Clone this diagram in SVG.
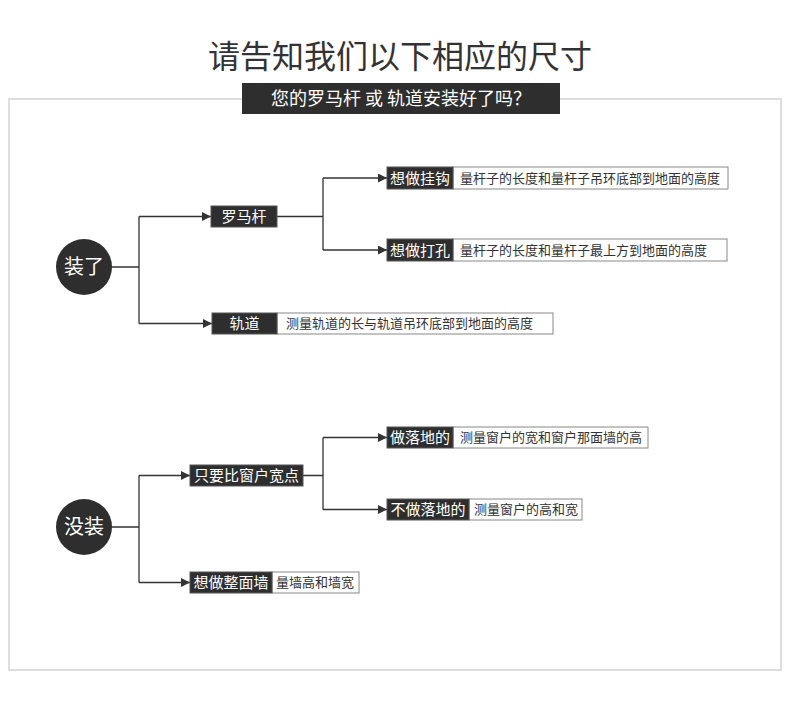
<svg xmlns="http://www.w3.org/2000/svg" width="790" height="701" viewBox="0 0 790 701">
<style>
text{font-family:"Noto Sans CJK SC","Noto Sans",sans-serif;}
.dk{fill:#2e2e2e;stroke:#555;stroke-width:1;}
.wt{fill:#fff;stroke:#888;stroke-width:1;}
.lb{fill:#fff;font-size:15px;}
.ds{fill:#333;font-size:13px;}
.ct{fill:#fff;font-size:20px;text-anchor:middle;}
.ln{fill:none;stroke:#333;stroke-width:1.3;}
</style>
<defs>
<marker id="ah" viewBox="0 0 10 10" refX="10" refY="5" markerWidth="9" markerHeight="9" markerUnits="userSpaceOnUse" orient="auto">
<path d="M0,0 L10,5 L0,10 z" fill="#333"/>
</marker>
</defs>
<rect width="790" height="701" fill="#fff"/>
<rect x="9" y="99" width="772" height="571" fill="none" stroke="#ddd" stroke-width="2"/>
<text x="400" y="68" font-size="32" fill="#333" text-anchor="middle">请告知我们以下相应的尺寸</text>
<g id="banner">
<rect x="242" y="83" width="318" height="31" fill="#2e2e2e"/>
<text x="401" y="105" font-size="18" fill="#fff" text-anchor="middle">您的罗马杆 或 轨道安装好了吗？</text>
</g>
<g id="connectors">
<path class="ln" d="M112,267 H139 M139,216.5 V323.5"/>
<path class="ln" d="M139,216.5 H211" marker-end="url(#ah)"/>
<path class="ln" d="M139,323.5 H212" marker-end="url(#ah)"/>
<path class="ln" d="M277,216.5 H323 M323,178 V250"/>
<path class="ln" d="M323,178 H387" marker-end="url(#ah)"/>
<path class="ln" d="M323,250 H387" marker-end="url(#ah)"/>
<path class="ln" d="M112,527 H139 M139,475.5 V582.5"/>
<path class="ln" d="M139,475.5 H190" marker-end="url(#ah)"/>
<path class="ln" d="M139,582.5 H190" marker-end="url(#ah)"/>
<path class="ln" d="M303,475.5 H323 M323,437.5 V509.5"/>
<path class="ln" d="M323,437.5 H387" marker-end="url(#ah)"/>
<path class="ln" d="M323,509.5 H387" marker-end="url(#ah)"/>
</g>
<g id="installed">
<circle cx="84" cy="267" r="28" fill="#2e2e2e"/>
<text class="ct" x="84" y="274">装了</text>
</g>
<g id="roman-rod">
<rect class="dk" x="211" y="206" width="66" height="21"/>
<text class="lb" x="244" y="222" text-anchor="middle">罗马杆</text>
</g>
<g id="hook">
<rect class="wt" x="453" y="167" width="275" height="22"/>
<rect class="dk" x="387" y="167" width="66" height="22"/>
<text class="lb" x="420" y="184" text-anchor="middle">想做挂钩</text>
<text class="ds" x="460" y="183">量杆子的长度和量杆子吊环底部到地面的高度</text>
</g>
<g id="drill">
<rect class="wt" x="453" y="239" width="274" height="22"/>
<rect class="dk" x="387" y="239" width="66" height="22"/>
<text class="lb" x="420" y="256" text-anchor="middle">想做打孔</text>
<text class="ds" x="460" y="255">量杆子的长度和量杆子最上方到地面的高度</text>
</g>
<g id="track">
<rect class="wt" x="277" y="313" width="276" height="21"/>
<rect class="dk" x="212" y="313" width="65" height="21"/>
<text class="lb" x="244.5" y="329" text-anchor="middle">轨道</text>
<text class="ds" x="286" y="328">测量轨道的长与轨道吊环底部到地面的高度</text>
</g>
<g id="not-installed">
<circle cx="84" cy="527" r="28" fill="#2e2e2e"/>
<text class="ct" x="84" y="534">没装</text>
</g>
<g id="wider">
<rect class="dk" x="190" y="465" width="113" height="21"/>
<text class="lb" x="246.5" y="481" text-anchor="middle">只要比窗户宽点</text>
</g>
<g id="floor">
<rect class="wt" x="453" y="427" width="195" height="21"/>
<rect class="dk" x="387" y="427" width="66" height="21"/>
<text class="lb" x="420" y="443" text-anchor="middle">做落地的</text>
<text class="ds" x="460" y="442">测量窗户的宽和窗户那面墙的高</text>
</g>
<g id="no-floor">
<rect class="wt" x="469" y="499" width="113" height="21"/>
<rect class="dk" x="387" y="499" width="82" height="21"/>
<text class="lb" x="428" y="515" text-anchor="middle">不做落地的</text>
<text class="ds" x="474" y="514">测量窗户的高和宽</text>
</g>
<g id="whole-wall">
<rect class="wt" x="272" y="572" width="87" height="21"/>
<rect class="dk" x="190" y="572" width="82" height="21"/>
<text class="lb" x="231" y="588" text-anchor="middle">想做整面墙</text>
<text class="ds" x="276" y="587">量墙高和墙宽</text>
</g>
</svg>
